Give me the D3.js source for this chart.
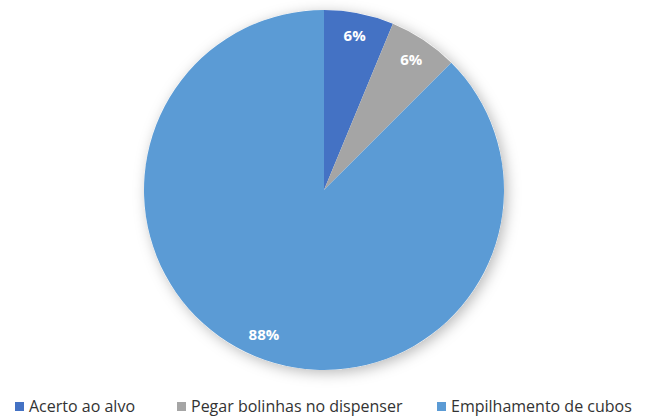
<!DOCTYPE html>
<html>
<head>
<meta charset="utf-8">
<script src="https://cdn.jsdelivr.net/npm/d3@7"></script>
<style>
  html, body { margin: 0; padding: 0; background: #fff; }
  svg { display: block; }
</style>
</head>
<body>
<div id="chart"></div>
<script>
// dados
const categories = ['Acerto ao alvo', 'Pegar bolinhas no dispenser', 'Empilhamento de cubos']
const counts = [1, 1, 14]
const colors = ['#4472C4', '#A5A5A5', '#5B9BD5']

const width = 650
const height = 419
const cx = 324
const cy = 190
const radius = 180

const svg = d3
  .select('#chart')
  .append('svg')
  .attr('width', width)
  .attr('height', height)

// sombra suave do gráfico
const defs = svg.append('defs')
const shadow = defs.append('filter')
  .attr('id', 'shadow')
  .attr('x', '-20%').attr('y', '-20%')
  .attr('width', '140%').attr('height', '140%')
shadow.append('feDropShadow')
  .attr('dx', 3).attr('dy', 3)
  .attr('stdDeviation', 7)
  .attr('flood-color', '#000')
  .attr('flood-opacity', 0.28)

const total = d3.sum(counts)
const data = categories.map((c, i) => ({ name: c, value: counts[i], color: colors[i] }))

const pie = d3.pie().value((d) => d.value).sort(null)
const arcs = pie(data)
const arc = d3.arc().innerRadius(0).outerRadius(radius)
const labelArc = d3.arc().innerRadius(157).outerRadius(157)

const g = svg.append('g').attr('transform', `translate(${cx},${cy})`)

g.append('circle')
  .attr('r', radius)
  .attr('fill', '#fff')
  .attr('filter', 'url(#shadow)')

g.selectAll('path')
  .data(arcs)
  .join('path')
  .attr('d', arc)
  .attr('fill', (d) => d.data.color)

g.selectAll('text')
  .data(arcs)
  .join('text')
  .attr('transform', (d) => `translate(${labelArc.centroid(d)})`)
  .attr('text-anchor', 'middle')
  .attr('dy', '0.35em')
  .style('font', 'bold 15px "Open Sans", sans-serif')
  .attr('fill', '#fff')
  .text((d) => `${Math.round((d.data.value / total) * 100)}%`)

// legenda
const legendX = [15, 177, 437]
const legend = svg.append('g').attr('transform', 'translate(0, 406)')
const item = legend
  .selectAll('g')
  .data(data)
  .join('g')
  .attr('transform', (d, i) => `translate(${legendX[i]}, 0)`)

item.append('rect')
  .attr('x', 0)
  .attr('y', -4)
  .attr('width', 9)
  .attr('height', 9)
  .attr('fill', (d) => d.color)

item.append('text')
  .attr('x', 14)
  .attr('y', 0)
  .attr('dy', '0.35em')
  .style('font', '16px "Open Sans", sans-serif')
  .attr('fill', '#333')
  .text((d) => d.name)
</script>
</body>
</html>
